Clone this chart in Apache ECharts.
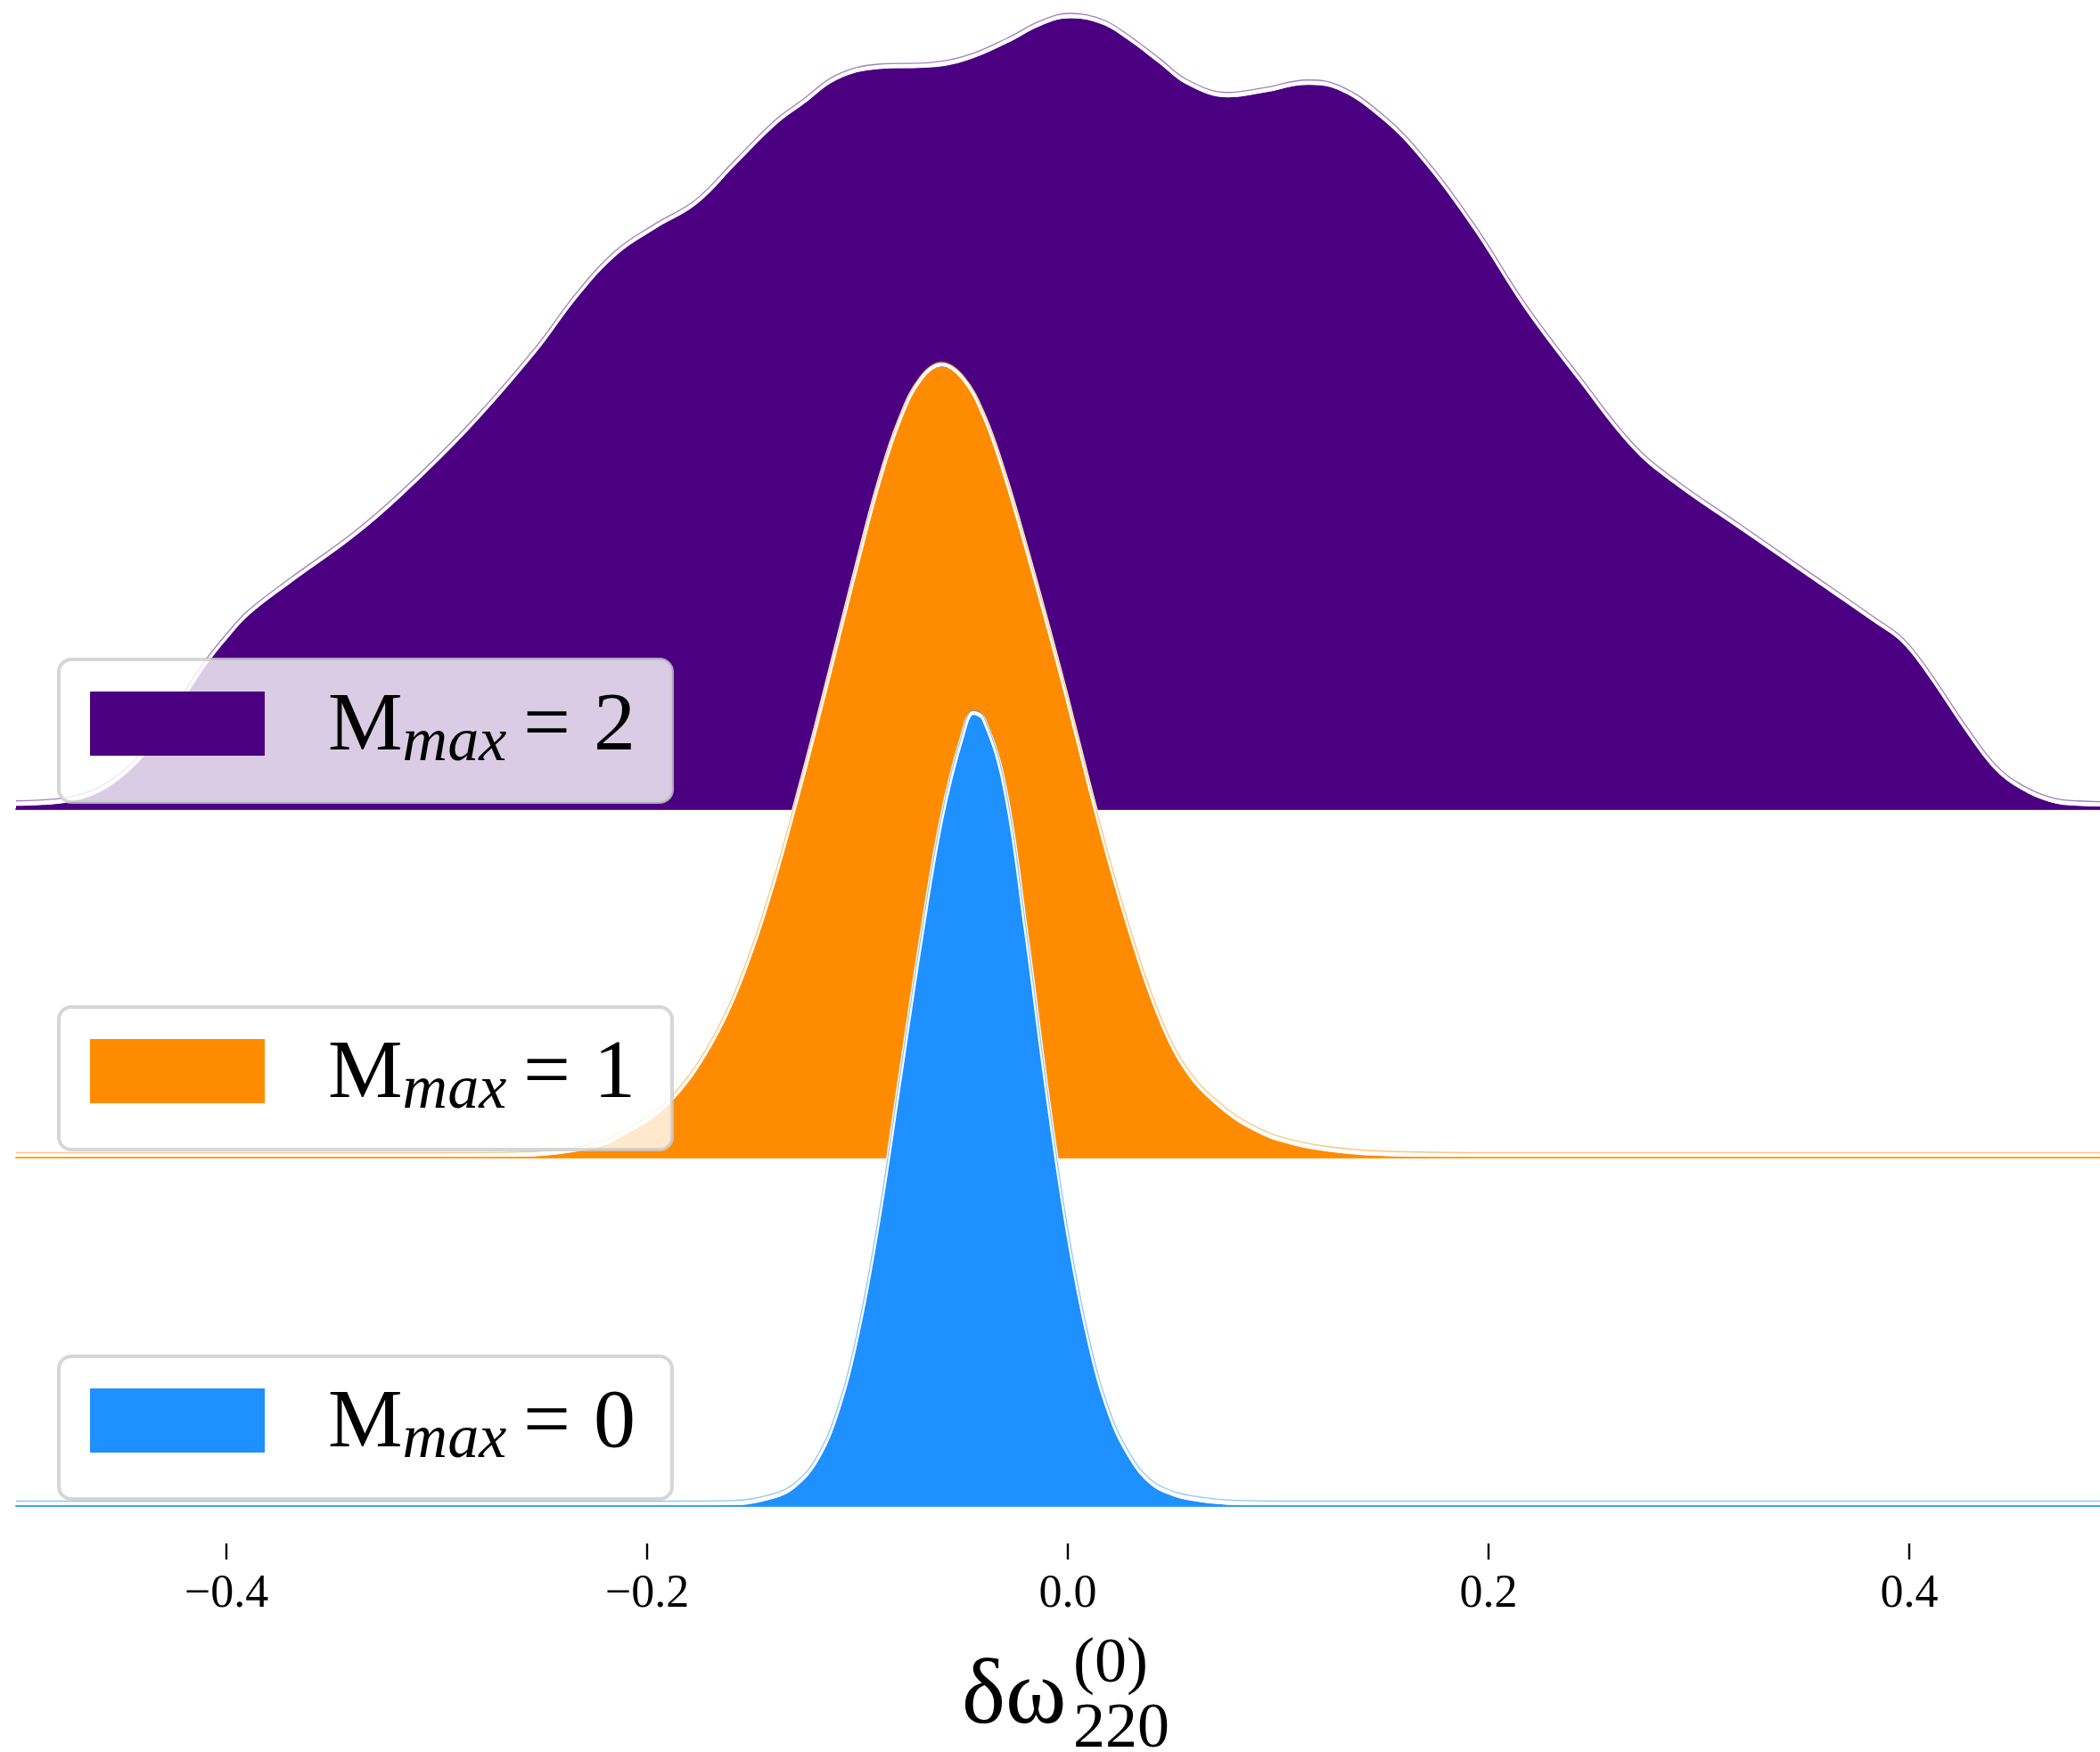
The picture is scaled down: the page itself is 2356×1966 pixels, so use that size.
<!DOCTYPE html>
<html>
<head>
<meta charset="utf-8">
<script src="https://cdn.jsdelivr.net/npm/echarts@6/dist/echarts.min.js"></script>
<style>
  html, body { margin: 0; padding: 0; background: #ffffff; }
  #chart { width: 2356px; height: 1966px; }
</style>
</head>
<body>
<div id="chart"></div>
<script>
// Posterior density of δω_220^(0) for each M_max (KDE curves)
const omegaM0 = [-0.5, -0.2, -0.16, -0.14, -0.13, -0.12, -0.11, -0.10, -0.09, -0.08, -0.07, -0.06, -0.05, -0.045,
  -0.04, -0.03, -0.02, -0.01, 0.00, 0.01, 0.02, 0.03, 0.04, 0.05, 0.06, 0.07, 0.08, 0.10, 0.5];
const densityM0 = [0, 0, 0.01, 0.12, 0.29, 0.68, 1.45, 2.75, 4.60, 6.85, 9.10, 11.10, 12.45, 12.80,
  12.70, 11.60, 9.30, 6.70, 4.40, 2.65, 1.45, 0.74, 0.33, 0.16, 0.08, 0.035, 0.012, 0, 0];

const omegaM1 = [-0.5, -0.30, -0.26, -0.24, -0.22, -0.21, -0.20, -0.19, -0.18, -0.17, -0.16, -0.15, -0.14, -0.13,
  -0.12, -0.11, -0.10, -0.09, -0.08, -0.07, -0.06, -0.05, -0.04, -0.03, -0.02, -0.01, 0.00, 0.01, 0.02, 0.03,
  0.04, 0.05, 0.06, 0.07, 0.08, 0.09, 0.10, 0.12, 0.15, 0.20, 0.5];
const densityM1 = [0, 0, 0.007, 0.036, 0.115, 0.216, 0.324, 0.482, 0.706, 1.008, 1.39, 1.886, 2.484, 3.168,
  3.888, 4.644, 5.40, 6.12, 6.696, 7.07, 7.20, 7.08, 6.74, 6.20, 5.55, 4.86, 4.14, 3.384, 2.664, 2.016,
  1.44, 0.986, 0.684, 0.49, 0.338, 0.23, 0.151, 0.065, 0.014, 0, 0];

const omegaM2 = [-0.5, -0.48, -0.47, -0.46, -0.45, -0.44, -0.43, -0.42, -0.41, -0.40, -0.39, -0.37, -0.34, -0.317,
  -0.285, -0.253, -0.234, -0.215, -0.196, -0.177, -0.158, -0.139, -0.126, -0.11, -0.09, -0.065, -0.048, -0.029,
  -0.013, 0.001, 0.0165, 0.029, 0.044, 0.057, 0.076, 0.093, 0.114, 0.129, 0.148, 0.167, 0.193, 0.218, 0.244,
  0.269, 0.288, 0.320, 0.352, 0.384, 0.397, 0.409, 0.428, 0.441, 0.453, 0.467, 0.48, 0.5];
const densityM2 = [0.008, 0.013, 0.023, 0.042, 0.076, 0.125, 0.194, 0.270, 0.346, 0.409, 0.464, 0.542, 0.652, 0.752,
  0.912, 1.098, 1.226, 1.330, 1.395, 1.452, 1.549, 1.644, 1.693, 1.752, 1.778, 1.782, 1.799, 1.840,
  1.882, 1.900, 1.885, 1.847, 1.790, 1.740, 1.710, 1.721, 1.740, 1.727, 1.664, 1.569, 1.395, 1.199, 1.024,
  0.865, 0.783, 0.671, 0.559, 0.447, 0.399, 0.323, 0.181, 0.095, 0.048, 0.017, 0.008, 0.006];

const mmaxValues = [0, 1, 2];
const ridgeColors = ['#1E90FF', '#FF8C00', '#4B0082'];
const xTicks = [-0.4, -0.2, 0.0, 0.2, 0.4];

const ridgeOmega = [omegaM0, omegaM1, omegaM2];
const ridgeDensity = [densityM0, densityM1, densityM2];

// ---- layout ----
const FONT = 'Liberation Serif';
const PLOT_LEFT = 18;
const PLOT_WIDTH = 2360;
const PEAK_PX = 887.5;            // pixel height of each ridge's maximum
const ridgeBaseline = [1690, 1299, 908];
const legendTop = [1522, 1130, 740];
// vertical pixel shifts: filled area, white outline, thin coloured outline
const layerShift = [0, 2.5, 5.5];
const SMOOTH = 0.4;

const grids = [], xAxes = [], yAxes = [], series = [], legends = [];

ridgeOmega.forEach((omega, i) => {
  const color = ridgeColors[i];
  const dens = ridgeDensity[i];
  const pairs = omega.map((x, k) => [x, dens[k]]);
  const yMax = Math.max(...dens);
  const z0 = 40 - i * 10;              // lower ridges are drawn on top
  const name = 'M_max = ' + mmaxValues[i];
  const gridIdx = [];

  layerShift.forEach((shift, layer) => {
    const gi = grids.length;
    gridIdx.push(gi);
    grids.push({
      left: PLOT_LEFT, width: PLOT_WIDTH,
      top: ridgeBaseline[i] - shift - PEAK_PX, height: PEAK_PX,
      outerBoundsMode: 'none'
    });
    xAxes.push({
      type: 'value', gridIndex: gi, min: -0.5, max: 0.5,
      z: z0 + 4,
      axisLine: { show: layer === 0, lineStyle: { color: color, width: 2, opacity: 0.85 } },
      axisTick: { show: false }, axisLabel: { show: false }, splitLine: { show: false }
    });
    yAxes.push({
      type: 'value', gridIndex: gi, min: 0, max: yMax, show: false,
      splitLine: { show: false }
    });
  });

  // filled density
  series.push({
    type: 'line', name: name,
    xAxisIndex: gridIdx[0], yAxisIndex: gridIdx[0],
    data: pairs, smooth: SMOOTH,
    symbol: 'none', showSymbol: false, clip: false, silent: true,
    itemStyle: { color: color },
    lineStyle: { width: 0, color: color },
    areaStyle: { color: color, opacity: 1 },
    z: z0
  });
  // white outline
  series.push({
    type: 'line', name: name + ' outline',
    xAxisIndex: gridIdx[1], yAxisIndex: gridIdx[1],
    data: pairs, smooth: SMOOTH,
    symbol: 'none', showSymbol: false, clip: false, silent: true,
    lineStyle: { width: 4.5, color: '#ffffff' },
    z: z0 + 1
  });
  // thin coloured edge
  series.push({
    type: 'line', name: name + ' edge',
    xAxisIndex: gridIdx[2], yAxisIndex: gridIdx[2],
    data: pairs, smooth: SMOOTH,
    symbol: 'none', showSymbol: false, clip: false, silent: true,
    lineStyle: { width: 1.3, color: color, opacity: 0.5 },
    z: z0 + 2
  });

  legends.push({
    data: [{ name: name, icon: 'rect' }],
    left: 66, top: legendTop[i],
    orient: 'horizontal', selectedMode: false,
    itemWidth: 196, itemHeight: 72, itemGap: 0,
    padding: [14, 41, 30, 35],
    backgroundColor: 'rgba(255,255,255,0.8)',
    borderColor: 'rgba(204,204,204,0.8)',
    borderWidth: 4, borderRadius: 14,
    itemStyle: { borderWidth: 0 },
    z: 60,
    formatter: (n) => '{m|M}{s|max}{e|\u2009=}{n|' + n.split('= ')[1] + '}',
    textStyle: {
      color: '#000', fontFamily: FONT,
      rich: {
        m: { fontSize: 94, fontFamily: FONT, color: '#000', lineHeight: 72, padding: [8, 0, 0, 66] },
        s: { fontSize: 70, fontFamily: FONT, fontStyle: 'italic', color: '#000', lineHeight: 72, padding: [46, 0, 0, 0] },
        e: { fontSize: 94, fontFamily: FONT, color: '#000', lineHeight: 72, padding: [8, 0, 0, 0] },
        n: { fontSize: 94, fontFamily: FONT, color: '#000', lineHeight: 72, padding: [8, 0, 0, 26] }
      }
    }
  });
});

// tick axis below the lowest ridge
xAxes.push({
  type: 'value', gridIndex: 0, position: 'bottom', offset: 42,
  min: -0.5, max: 0.5,
  axisLine: { show: false },
  axisTick: { show: true, length: 18, lineStyle: { color: '#000', width: 2.4 }, customValues: xTicks },
  axisLabel: {
    show: true, customValues: xTicks, margin: 31,
    fontFamily: FONT, fontSize: 52, color: '#000',
    formatter: (v) => v.toFixed(1).replace('-', '\u2212')
  },
  splitLine: { show: false }
});

const chart = echarts.init(document.getElementById('chart'), null, { renderer: 'canvas' });
chart.setOption({
  backgroundColor: '#ffffff',
  animation: false,
  grid: grids,
  xAxis: xAxes,
  yAxis: yAxes,
  legend: legends,
  series: series,
  graphic: [
    { type: 'text', x: 1079, y: 1906, z: 100,
      style: { text: 'δω', font: '104px "Liberation Serif"', fill: '#000', textAlign: 'left', textVerticalAlign: 'middle' } },
    { type: 'text', x: 1204, y: 1868, z: 100,
      style: { text: '(0)', font: '72px "Liberation Serif"', fill: '#000', textAlign: 'left', textVerticalAlign: 'middle' } },
    { type: 'text', x: 1204, y: 1941, z: 100,
      style: { text: '220', font: '72px "Liberation Serif"', fill: '#000', textAlign: 'left', textVerticalAlign: 'middle' } }
  ]
});
</script>
</body>
</html>
